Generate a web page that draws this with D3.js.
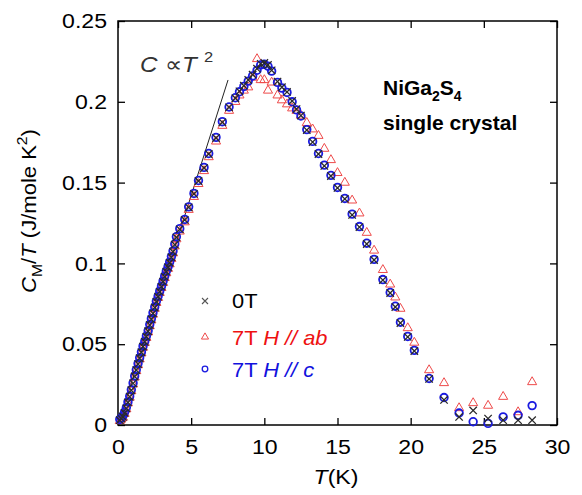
<!DOCTYPE html>
<html>
<head>
<meta charset="utf-8">
<script src="https://cdn.jsdelivr.net/npm/d3@7"></script>
<style>
  html, body { margin: 0; padding: 0; background: #fff; }
  svg { display: block; font-family: Arial, 'Liberation Sans', sans-serif; }
</style>
</head>
<body>
<svg id="svg" width="582" height="495"></svg>
<script>
// temperatures (K), shared by the three runs
const temps = [
  0.12, 0.23, 0.34, 0.45, 0.57, 0.68, 0.8, 0.91, 1.03, 1.14, 1.25, 1.37, 1.48, 1.6, 1.71, 1.83, 1.94,
  2.06, 2.17, 2.28, 2.39, 2.51, 2.62, 2.74, 2.85, 2.97, 3.08, 3.19, 3.3, 3.42, 3.53, 3.65, 3.76, 3.88, 3.99,
  4.22, 4.56, 4.83, 5.19, 5.5, 5.88, 6.2, 6.7, 7.13, 7.59, 8.02, 8.3, 8.6, 8.9, 9.2, 9.5, 9.75, 10.0,
  10.25, 10.5, 10.9, 11.2, 11.55, 11.9, 12.2, 12.5, 12.9, 13.3, 13.7, 14.1, 14.55, 15.0, 15.5, 16.0,
  16.5, 17.0, 17.5, 18.1, 18.6, 18.95, 19.3, 19.8, 20.25,
  21.26, 22.28, 23.31, 24.27, 25.29, 26.32, 27.34, 28.3,
];

// C_M/T (J/mole K^2), zero field
const zeroField = [
  0.003, 0.004, 0.0051, 0.0075, 0.0103, 0.014, 0.0175, 0.0215, 0.0258, 0.030, 0.034, 0.0377, 0.0413, 0.045, 0.0485, 0.0515, 0.0546,
  0.058, 0.0619, 0.0655, 0.0691, 0.0727, 0.0763, 0.0794, 0.0825, 0.0856, 0.0887, 0.0918, 0.0949, 0.0976, 0.1004, 0.1038, 0.1072, 0.1116, 0.1161,
  0.1211, 0.1269, 0.1347, 0.143, 0.151, 0.159, 0.1677, 0.1776, 0.1873, 0.1966, 0.2022, 0.2065, 0.21, 0.2135, 0.2168, 0.2205, 0.2235, 0.224,
  0.2228, 0.2195, 0.2125, 0.209, 0.2061, 0.2005, 0.1955, 0.1915, 0.1825, 0.1751, 0.1677, 0.1603, 0.1541, 0.1467, 0.1399, 0.13,
  0.1225, 0.112, 0.1021, 0.0897, 0.0817, 0.073, 0.0631, 0.0545, 0.0458,
  0.0285, 0.0155, 0.005, 0.009, 0.004, 0.003, 0.003, 0.003,
];

// 7 T, H // ab
const fieldAB = [
  0.0025, 0.0035, 0.0046, 0.007, 0.0098, 0.0135, 0.017, 0.021, 0.0252, 0.0295, 0.0334, 0.0371, 0.0407, 0.0444, 0.0479, 0.0509, 0.054,
  0.0574, 0.0612, 0.0648, 0.0684, 0.072, 0.0756, 0.0787, 0.0818, 0.0849, 0.088, 0.091, 0.094, 0.0967, 0.0995, 0.1029, 0.1063, 0.1106, 0.115,
  0.1198, 0.1255, 0.1332, 0.1412, 0.1492, 0.1572, 0.1658, 0.1755, 0.1852, 0.1945, 0.2, 0.204, 0.207, 0.209, 0.215, 0.2265, 0.2135, 0.2135,
  0.207, 0.212, 0.204, 0.201, 0.1985, 0.196, 0.1945, 0.1915, 0.187, 0.183, 0.179, 0.171, 0.164, 0.156, 0.15, 0.139,
  0.131, 0.119, 0.108, 0.096, 0.087, 0.079, 0.072, 0.06, 0.051,
  0.034, 0.026, 0.0105, 0.0136, 0.012, 0.0175, 0.008, 0.0266,
];

// 7 T, H // c
const fieldC = [
  0.0035, 0.0045, 0.0058, 0.008, 0.0108, 0.0143, 0.0178, 0.0218, 0.026, 0.0303, 0.0342, 0.038, 0.0416, 0.0452, 0.0488, 0.0518, 0.055,
  0.0583, 0.0622, 0.0658, 0.0694, 0.073, 0.0766, 0.0797, 0.0828, 0.0859, 0.089, 0.0921, 0.0952, 0.098, 0.1008, 0.1042, 0.1076, 0.112, 0.1165,
  0.1215, 0.1272, 0.135, 0.1433, 0.1513, 0.1594, 0.168, 0.178, 0.1877, 0.1968, 0.2025, 0.2062, 0.2095, 0.2128, 0.216, 0.2195, 0.2228, 0.2232,
  0.222, 0.219, 0.212, 0.2085, 0.2058, 0.2, 0.195, 0.1912, 0.1828, 0.1755, 0.168, 0.1608, 0.1545, 0.147, 0.1402, 0.1305,
  0.1228, 0.1125, 0.1025, 0.09, 0.082, 0.0735, 0.0636, 0.0548, 0.0462,
  0.0288, 0.017, 0.0074, 0.002, 0.001, 0.005, 0.006, 0.012,
];

// C ∝ T^2 guide line (C/T linear in T)
const guideT = [0, 7.52];
const guideV = [0, 0.2135];

const xTicks = [0, 5, 10, 15, 20, 25, 30];
const yTicks = [0, 0.05, 0.1, 0.15, 0.2, 0.25];

const svg = d3.select('#svg');
const plotLeft = 118, plotRight = 557, plotTop = 21, plotBottom = 425;

const x = d3.scaleLinear().domain([0, 30]).range([plotLeft, plotRight]);
const y = d3.scaleLinear().domain([0, 0.25]).range([plotBottom, plotTop]);

const font = 21;
const tickLen = 7;
const wide = 1.1; // the original lettering is a little stretched sideways

// move a text's x/y into a transform and widen it
function stretch(sel, k) {
  sel.each(function () {
    const t = d3.select(this);
    const tx = +t.attr('x') || 0;
    const ty = +t.attr('y') || 0;
    t.attr('x', 0).attr('y', 0).attr('transform', `translate(${tx},${ty}) scale(${k},1)`);
  });
}

// axes, ticks pointing inward on all four sides
function styleAxis(g) {
  g.select('.domain').remove();
  g.selectAll('.tick line').attr('stroke', '#000').attr('stroke-width', 1.3);
  g.selectAll('.tick text').attr('fill', '#000').style('font-size', font + 'px').attr('font-family', null);
  stretch(g.selectAll('.tick text'), wide);
}

svg.append('g')
  .attr('transform', `translate(0,${plotBottom})`)
  .call(d3.axisBottom(x).tickValues(xTicks).tickSizeInner(-tickLen).tickSizeOuter(0).tickPadding(14).tickFormat(d3.format('d')))
  .call(styleAxis);
svg.append('g')
  .attr('transform', `translate(0,${plotTop})`)
  .call(d3.axisTop(x).tickValues(xTicks).tickSizeInner(-tickLen).tickSizeOuter(0).tickFormat(''))
  .call(styleAxis);
svg.append('g')
  .attr('transform', `translate(${plotLeft},0)`)
  .call(d3.axisLeft(y).tickValues(yTicks).tickSizeInner(-tickLen).tickSizeOuter(0).tickPadding(11).tickFormat((d) => (d === 0 ? '0' : String(+d.toFixed(2)))))
  .call(styleAxis);
svg.append('g')
  .attr('transform', `translate(${plotRight},0)`)
  .call(d3.axisRight(y).tickValues(yTicks).tickSizeInner(-tickLen).tickSizeOuter(0).tickFormat(''))
  .call(styleAxis);

svg.append('rect')
  .attr('x', plotLeft).attr('y', plotTop)
  .attr('width', plotRight - plotLeft).attr('height', plotBottom - plotTop)
  .attr('fill', 'none').attr('stroke', '#000').attr('stroke-width', 1.5);

// guide line
svg.append('line')
  .attr('x1', x(guideT[0])).attr('y1', y(guideV[0]))
  .attr('x2', x(guideT[1])).attr('y2', y(guideV[1]))
  .attr('stroke', '#222').attr('stroke-width', 1);

// markers
const red = '#ee4a4a';
const blue = '#1a1ae0';
const grey = '#2a2a2a';
const triPath = d3.symbol().type(d3.symbolTriangle).size(36)();
const crossPath = 'M-3.7,-3.7L3.7,3.7M-3.7,3.7L3.7,-3.7';

const gData = svg.append('g');

gData.selectAll('path.ab')
  .data(temps.map((t, i) => [t, fieldAB[i]]))
  .join('path')
  .attr('class', 'ab')
  .attr('d', triPath)
  .attr('transform', (d) => `translate(${x(d[0])},${y(d[1])})`)
  .attr('fill', 'none').attr('stroke', red).attr('stroke-width', 1);

gData.selectAll('circle.c')
  .data(temps.map((t, i) => [t, fieldC[i]]))
  .join('circle')
  .attr('class', 'c')
  .attr('cx', (d) => x(d[0])).attr('cy', (d) => y(d[1]))
  .attr('r', 3.8)
  .attr('fill', 'none').attr('stroke', blue).attr('stroke-width', 1.8);

gData.selectAll('path.zero')
  .data(temps.map((t, i) => [t, zeroField[i]]))
  .join('path')
  .attr('class', 'zero')
  .attr('d', crossPath)
  .attr('transform', (d) => `translate(${x(d[0])},${y(d[1])})`)
  .attr('fill', 'none').attr('stroke', grey).attr('stroke-width', 1.3);

// legend
const legend = svg.append('g');
legend.append('path').attr('d', 'M-3,-3L3,3M-3,3L3,-3')
  .attr('transform', 'translate(205,301)').attr('stroke', '#555').attr('stroke-width', 1.1).attr('fill', 'none');
legend.append('path').attr('d', d3.symbol().type(d3.symbolTriangle).size(22)())
  .attr('transform', 'translate(205,337)').attr('stroke', red).attr('stroke-width', 1).attr('fill', 'none');
legend.append('circle').attr('cx', 205).attr('cy', 369).attr('r', 2.8)
  .attr('stroke', blue).attr('stroke-width', 1.3).attr('fill', 'none');

const t0 = legend.append('text').attr('x', 232).attr('y', 308).style('font-size', font + 'px').attr('fill', '#000').text('0T');

const tAb = legend.append('text').attr('x', 232).attr('y', 345).style('font-size', font + 'px').attr('fill', '#ee1111');
tAb.append('tspan').text('7T ');
tAb.append('tspan').attr('font-style', 'italic').text('H // ab');

const tC = legend.append('text').attr('x', 232).attr('y', 377).style('font-size', font + 'px').attr('fill', '#1111dd');
tC.append('tspan').text('7T ');
tC.append('tspan').attr('font-style', 'italic').text('H // c');
[t0, tAb, tC].forEach((t) => stretch(t, 1.04));

// annotations
const ann = svg.append('g').attr('fill', '#333').style('font-size', '22px');
ann.append('text').attr('x', 140).attr('y', 72).attr('font-style', 'italic').text('C');
ann.append('text').attr('x', 165).attr('y', 72).text('\u221D');
ann.append('text').attr('x', 182).attr('y', 72).attr('font-style', 'italic').text('T');
ann.append('text').attr('x', 204).attr('y', 62).style('font-size', '15px').text('2');
stretch(ann.selectAll('text'), wide);

const title = svg.append('text').attr('x', 383).attr('y', 95).style('font-size', '21px').attr('font-weight', 'bold').attr('fill', '#000');
title.append('tspan').text('NiGa');
title.append('tspan').attr('dy', 6).style('font-size', '14px').text('2');
title.append('tspan').attr('dy', -6).text('S');
title.append('tspan').attr('dy', 6).style('font-size', '14px').text('4');
svg.append('text').attr('x', 383).attr('y', 130).style('font-size', '21px').attr('font-weight', 'bold').attr('fill', '#000').text('single crystal');

// axis titles
const xl = svg.append('text').attr('x', 336).attr('y', 484).attr('text-anchor', 'middle').style('font-size', font + 'px').attr('fill', '#000');
xl.append('tspan').attr('font-style', 'italic').text('T');
xl.append('tspan').text('(K)');
stretch(xl, wide);

const yl = svg.append('text').attr('transform', 'translate(36,211) rotate(-90) scale(1.05,1)').attr('text-anchor', 'middle').style('font-size', font + 'px').attr('fill', '#000');
yl.append('tspan').attr('font-style', 'italic').text('C');
yl.append('tspan').attr('dy', 6).style('font-size', '15px').text('M');
yl.append('tspan').attr('dy', -6).text('/');
yl.append('tspan').attr('font-style', 'italic').text('T');
yl.append('tspan').text(' (J/mole K');
yl.append('tspan').attr('dy', -9).style('font-size', '15px').text('2');
yl.append('tspan').attr('dy', 9).text(')');
</script>
</body>
</html>
